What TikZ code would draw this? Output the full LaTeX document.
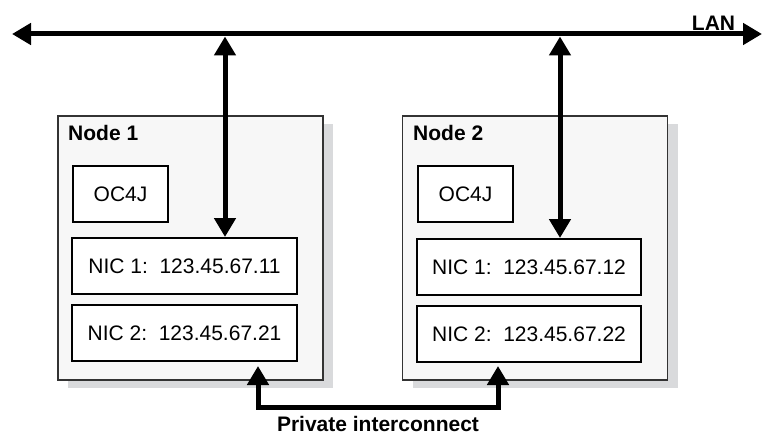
\documentclass[tikz,border=0pt]{standalone}
\usepackage{fontspec}
\setmainfont{Liberation Sans}
\usetikzlibrary{arrows.meta}
\definecolor{shade}{HTML}{D9DADC}
\definecolor{boxfill}{HTML}{F7F7F7}
\begin{document}
\begin{tikzpicture}[x=1pt,y=-1pt,
  hostbox/.style={draw=black!80, line width=1.5pt, fill=boxfill, minimum width=265pt, minimum height=264pt, inner sep=0pt},
  shadowbox/.style={fill=shade, minimum width=265pt, minimum height=264pt, inner sep=0pt},
  part/.style={draw=black, line width=2pt, fill=white, minimum height=56pt, inner sep=0pt, font=\fontsize{21}{25}\selectfont},
  title/.style={font=\bfseries\fontsize{21}{25}\selectfont, inner sep=0pt},
  link/.style={line width=5pt, line join=miter, {Triangle[width=21pt,length=19pt]}-{Triangle[width=21pt,length=19pt]}}
]
\useasboundingbox (0,0) rectangle (762,436);

% Node 1
\node[shadowbox] (s1) at (200.5,256) {};
\node[hostbox] (n1) at (190.5,248) {};
\node[title, anchor=base west] (n1t) at (68,140) {Node 1};
\node[part, minimum width=95pt] (n1oc) at (120.5,194) {OC4J};
\node[part, minimum width=225pt] (n1nic1) at (184.5,266) {NIC 1:\ \ 123.45.67.11};
\node[part, minimum width=225pt] (n1nic2) at (184.5,333) {NIC 2:\ \ 123.45.67.21};

% Node 2
\node[shadowbox] (s2) at (545,256) {};
\node[hostbox] (n2) at (535,248) {};
\node[title, anchor=base west] (n2t) at (413,140) {Node 2};
\node[part, minimum width=95pt] (n2oc) at (465.5,194) {OC4J};
\node[part, minimum width=224pt] (n2nic1) at (529,267) {NIC 1:\ \ 123.45.67.12};
\node[part, minimum width=224pt] (n2nic2) at (529,334) {NIC 2:\ \ 123.45.67.22};

% LAN
\coordinate (lanL) at (12,34);
\coordinate (lanR) at (762,34);
\draw[link] (lanL) -- (lanR);
\node[title, anchor=base] (lan) at (713.5,31) {LAN};

% vertical links
\coordinate (t1) at (225,36.5);
\coordinate (t2) at (560,36.5);
\draw[link] (t1) -- (t1 |- n1nic1.north);
\draw[link] (t2) -- (t2 |- n2nic1.north);

% private interconnect
\coordinate (p1) at (258,366);
\coordinate (p2) at (498,366);
\coordinate (pb) at (378,407);
\draw[link] (p1) |- (pb) -| (p2);
\node[title, anchor=base] (priv) at (378,431) {Private interconnect};
\end{tikzpicture}
\end{document}
